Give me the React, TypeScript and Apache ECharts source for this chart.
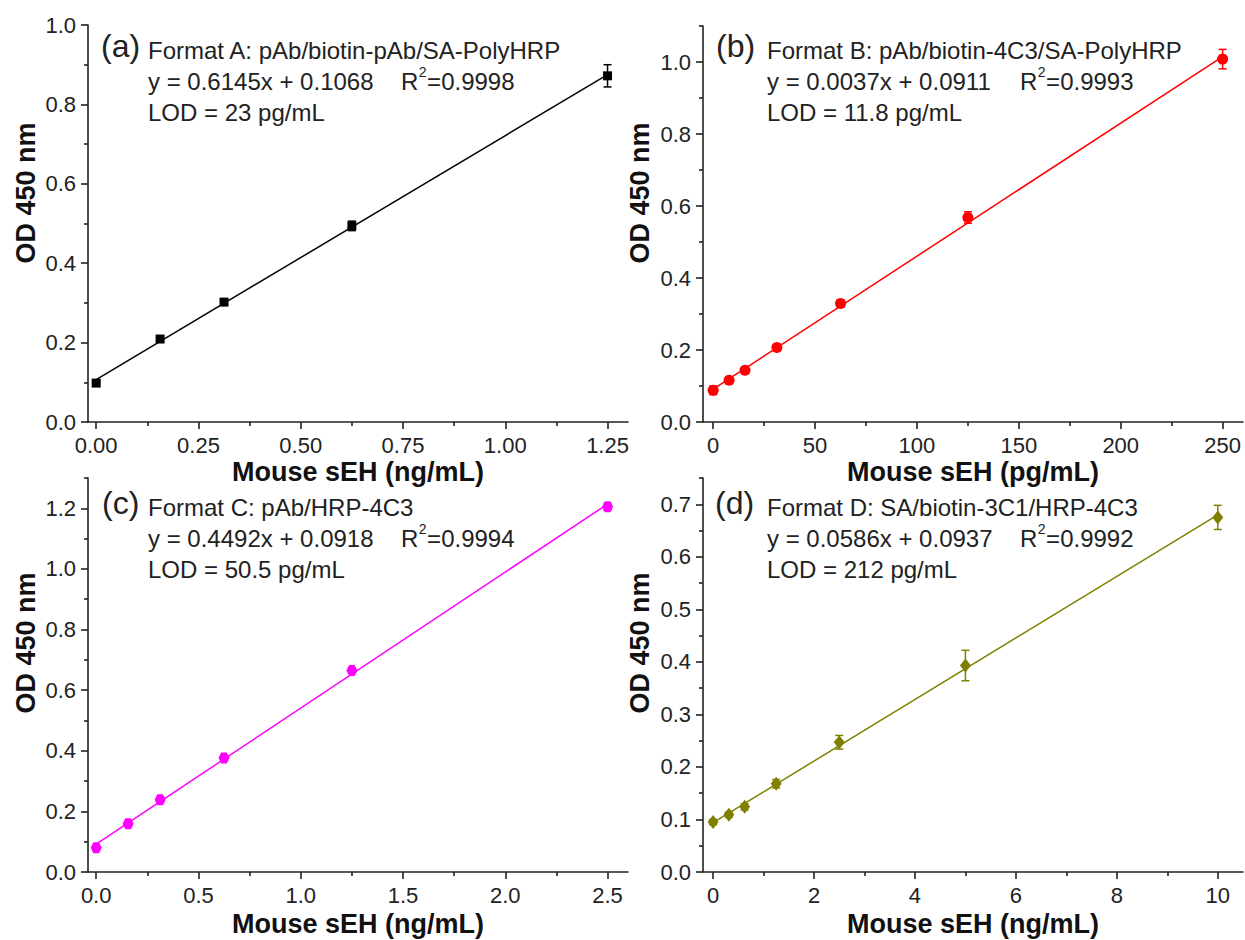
import React, { useEffect, useRef } from "react";
import * as echarts from "echarts";

// ---------- data ----------
const xA = [0, 0.15625, 0.3125, 0.625, 1.25];
const yA = [0.098, 0.209, 0.302, 0.494, 0.872];
const eA = [0.006, 0.006, 0.005, 0.012, 0.028];
const fitA = [[0, 0.107], [1.25, 0.875]];

const xB = [0, 7.8125, 15.625, 31.25, 62.5, 125, 250];
const yB = [0.088, 0.116, 0.144, 0.207, 0.329, 0.568, 1.008];
const eB = [0.012, 0.008, 0.007, 0.008, 0.01, 0.016, 0.027];
const fitB = [[0, 0.091], [250, 1.015]];

const xC = [0, 0.15625, 0.3125, 0.625, 1.25, 2.5];
const yC = [0.08, 0.159, 0.238, 0.376, 0.665, 1.205];
const eC = [0.008, 0.009, 0.009, 0.01, 0.009, 0.012];
const fitC = [[0, 0.092], [2.5, 1.214]];

const xD = [0, 0.3125, 0.625, 1.25, 2.5, 5, 10];
const yD = [0.095, 0.109, 0.124, 0.168, 0.247, 0.393, 0.675];
const eD = [0.005, 0.005, 0.006, 0.008, 0.013, 0.029, 0.023];
const fitD = [[0, 0.094], [10, 0.68]];

// ---------- ticks ----------
const xTicksA = [0, 0.25, 0.5, 0.75, 1.0, 1.25];
const xMinorA = [0.125, 0.375, 0.625, 0.875, 1.125];
const yTicksA = [0, 0.2, 0.4, 0.6, 0.8, 1.0];
const yMinorA = [0.1, 0.3, 0.5, 0.7, 0.9];

const xTicksB = [0, 50, 100, 150, 200, 250];
const xMinorB = [25, 75, 125, 175, 225];
const yTicksB = [0, 0.2, 0.4, 0.6, 0.8, 1.0];
const yMinorB = [0.1, 0.3, 0.5, 0.7, 0.9, 1.1];

const xTicksC = [0, 0.5, 1.0, 1.5, 2.0, 2.5];
const xMinorC = [0.25, 0.75, 1.25, 1.75, 2.25];
const yTicksC = [0, 0.2, 0.4, 0.6, 0.8, 1.0, 1.2];
const yMinorC = [0.1, 0.3, 0.5, 0.7, 0.9, 1.1, 1.3];

const xTicksD = [0, 2, 4, 6, 8, 10];
const xMinorD = [1, 3, 5, 7, 9];
const yTicksD = [0, 0.1, 0.2, 0.3, 0.4, 0.5, 0.6, 0.7];
const yMinorD = [0.05, 0.15, 0.25, 0.35, 0.45, 0.55, 0.65, 0.75];

// ---------- texts ----------
const panelLabels = ["(a)", "(b)", "(c)", "(d)"];
const formatTexts = [
  "Format A: pAb/biotin-pAb/SA-PolyHRP",
  "Format B: pAb/biotin-4C3/SA-PolyHRP",
  "Format C: pAb/HRP-4C3",
  "Format D: SA/biotin-3C1/HRP-4C3",
];
const eqTexts = [
  "y = 0.6145x + 0.1068",
  "y = 0.0037x + 0.0911",
  "y = 0.4492x + 0.0918",
  "y = 0.0586x + 0.0937",
];
const r2Texts = ["=0.9998", "=0.9993", "=0.9994", "=0.9992"];
const lodTexts = ["LOD = 23 pg/mL", "LOD = 11.8 pg/mL", "LOD = 50.5 pg/mL", "LOD = 212 pg/mL"];
const xTitles = ["Mouse sEH (ng/mL)", "Mouse sEH (pg/mL)", "Mouse sEH (ng/mL)", "Mouse sEH (ng/mL)"];
const yTitle = "OD 450 nm";

const FONT = "'Liberation Sans', Arial, Helvetica, sans-serif";
const AX = "#222";

function measure(text: string, font: string): number {
  const c = document.createElement("canvas");
  const ctx = c.getContext("2d");
  if (!ctx) return text.length * 12;
  ctx.font = font;
  return ctx.measureText(text).width;
}

export default function App() {
  const ref = useRef<HTMLDivElement>(null);
  useEffect(() => {
    if (!ref.current) return;
    const chart = echarts.init(ref.current, undefined, { renderer: "svg" });

    const panels = [
      {
        xs: xA, ys: yA, es: eA, fit: fitA, color: "#000000", symbol: "rect", size: 9,
        xMin: -0.02, xMax: 1.3, yMin: 0, yMax: 1.0,
        xT: xTicksA, xM: xMinorA, yT: yTicksA, yM: yMinorA,
        xf: (v: number) => v.toFixed(2), yf: (v: number) => v.toFixed(1),
        grid: { left: 88, top: 25, width: 540, height: 397 },
        lab: [101, 46], tx: 148, ly: [50, 81, 112], yt: [26, 193], xt: [358, 472],
      },
      {
        xs: xB, ys: yB, es: eB, fit: fitB, color: "#ff0000", symbol: "circle", size: 11,
        xMin: -5, xMax: 260, yMin: 0, yMax: 1.1,
        xT: xTicksB, xM: xMinorB, yT: yTicksB, yM: yMinorB,
        xf: (v: number) => String(v), yf: (v: number) => v.toFixed(1),
        grid: { left: 703, top: 26, width: 540, height: 396 },
        lab: [716, 46], tx: 767, ly: [50, 81, 112], yt: [640, 193], xt: [973, 472],
      },
      {
        xs: xC, ys: yC, es: eC, fit: fitC, color: "#ff00ff",
        symbol: "path://M-0.5,-0.866 L0.5,-0.866 L1,0 L0.5,0.866 L-0.5,0.866 L-1,0 Z", size: 11,
        xMin: -0.04, xMax: 2.6, yMin: 0, yMax: 1.3,
        xT: xTicksC, xM: xMinorC, yT: yTicksC, yM: yMinorC,
        xf: (v: number) => v.toFixed(1), yf: (v: number) => v.toFixed(1),
        grid: { left: 88, top: 478, width: 540, height: 394 },
        lab: [102, 503], tx: 148, ly: [507, 538, 569], yt: [26, 643], xt: [358, 924],
      },
      {
        xs: xD, ys: yD, es: eD, fit: fitD, color: "#808000", symbol: "diamond", size: [11, 14],
        xMin: -0.2, xMax: 10.5, yMin: 0, yMax: 0.75,
        xT: xTicksD, xM: xMinorD, yT: yTicksD, yM: yMinorD,
        xf: (v: number) => String(v), yf: (v: number) => v.toFixed(1),
        grid: { left: 703, top: 478, width: 540, height: 394 },
        lab: [715, 503], tx: 767, ly: [507, 538, 569], yt: [640, 643], xt: [973, 924],
      },
    ];

    const grids: any[] = [];
    const xAxes: any[] = [];
    const yAxes: any[] = [];
    const series: any[] = [];
    const graphics: any[] = [];

    const lineSt = { color: AX, width: 1.6 };
    const labelStyle = { fontSize: 22, fontFamily: FONT, color: AX };
    const textFont = `24px ${FONT}`;
    const rW = measure("R", textFont);
    const supFont = `14px ${FONT}`;
    const twoW = measure("2", supFont);

    panels.forEach((p, i) => {
      grids.push({ ...p.grid, containLabel: false });
      xAxes.push({
        type: "value", gridIndex: i, min: p.xMin, max: p.xMax, position: "bottom",
        axisLine: { show: true, onZero: false, lineStyle: lineSt },
        axisTick: { show: true, customValues: p.xT, length: 7, lineStyle: lineSt },
        axisLabel: { show: true, customValues: p.xT, formatter: p.xf, margin: 12, ...labelStyle },
        splitLine: { show: false },
      });
      xAxes.push({
        type: "value", gridIndex: i, min: p.xMin, max: p.xMax, position: "bottom",
        axisLine: { show: false, onZero: false },
        axisTick: { show: true, customValues: p.xM, length: 4, lineStyle: lineSt },
        axisLabel: { show: false },
        splitLine: { show: false },
      });
      yAxes.push({
        type: "value", gridIndex: i, min: p.yMin, max: p.yMax, position: "left",
        axisLine: { show: true, onZero: false, lineStyle: lineSt },
        axisTick: { show: true, customValues: p.yT, length: 7, lineStyle: lineSt },
        axisLabel: { show: true, customValues: p.yT, formatter: p.yf, margin: 12, ...labelStyle },
        splitLine: { show: false },
      });
      yAxes.push({
        type: "value", gridIndex: i, min: p.yMin, max: p.yMax, position: "left",
        axisLine: { show: false, onZero: false },
        axisTick: { show: true, customValues: p.yM, length: 4, lineStyle: lineSt },
        axisLabel: { show: false },
        splitLine: { show: false },
      });

      const color = p.color;
      series.push({
        type: "line", xAxisIndex: 2 * i, yAxisIndex: 2 * i, data: p.fit,
        symbol: "none", lineStyle: { color, width: 1.5 }, z: 2, silent: true,
      });
      series.push({
        type: "custom", xAxisIndex: 2 * i, yAxisIndex: 2 * i,
        data: p.xs.map((x, j) => [x, p.ys[j], p.es[j]]),
        encode: { x: 0, y: 1 }, z: 3, silent: true,
        renderItem: (params: any, api: any) => {
          const x = api.value(0), y = api.value(1), e = api.value(2);
          const t = api.coord([x, y + e]);
          const b = api.coord([x, y - e]);
          const hw = 4;
          const st = { stroke: color, lineWidth: 1.5 };
          return {
            type: "group",
            children: [
              { type: "line", shape: { x1: t[0], y1: t[1], x2: b[0], y2: b[1] }, style: st },
              { type: "line", shape: { x1: t[0] - hw, y1: t[1], x2: t[0] + hw, y2: t[1] }, style: st },
              { type: "line", shape: { x1: b[0] - hw, y1: b[1], x2: b[0] + hw, y2: b[1] }, style: st },
            ],
          };
        },
      });
      series.push({
        type: "scatter", xAxisIndex: 2 * i, yAxisIndex: 2 * i,
        data: p.xs.map((x, j) => [x, p.ys[j]]),
        symbol: p.symbol, symbolSize: p.size, itemStyle: { color, opacity: 1 }, z: 4, silent: true,
      });

      const txt = (text: string, x: number, y: number, font: string) => ({
        type: "text", x, y, silent: true,
        style: { text, font, fill: AX, align: "left", verticalAlign: "middle" },
      });
      graphics.push(txt(panelLabels[i], p.lab[0], p.lab[1], `32px ${FONT}`));
      graphics.push(txt(formatTexts[i], p.tx, p.ly[0], textFont));
      graphics.push(txt(eqTexts[i], p.tx, p.ly[1], textFont));
      const rx = p.tx + 253;
      graphics.push(txt("R", rx, p.ly[1], textFont));
      graphics.push(txt("2", rx + rW + 0.5, p.ly[1] - 9, supFont));
      graphics.push(txt(r2Texts[i], rx + rW + twoW + 1, p.ly[1], textFont));
      graphics.push(txt(lodTexts[i], p.tx, p.ly[2], textFont));

      graphics.push({
        type: "text", x: p.xt[0], y: p.xt[1], silent: true,
        style: { text: xTitles[i], font: `bold 27px ${FONT}`, fill: "#111", align: "center", verticalAlign: "middle" },
      });
      graphics.push({
        type: "text", x: p.yt[0], y: p.yt[1], rotation: Math.PI / 2, silent: true,
        style: { text: yTitle, font: `bold 27px ${FONT}`, fill: "#111", align: "center", verticalAlign: "middle" },
      });
    });

    chart.setOption({
      animation: false,
      backgroundColor: "#ffffff",
      textStyle: { fontFamily: FONT },
      grid: grids,
      xAxis: xAxes,
      yAxis: yAxes,
      series,
      graphic: { elements: graphics },
    });

    return () => chart.dispose();
  }, []);

  return (
    <div
      ref={ref}
      style={{ position: "absolute", left: 0, top: 0, width: 1245, height: 940, background: "#fff" }}
    />
  );
}
